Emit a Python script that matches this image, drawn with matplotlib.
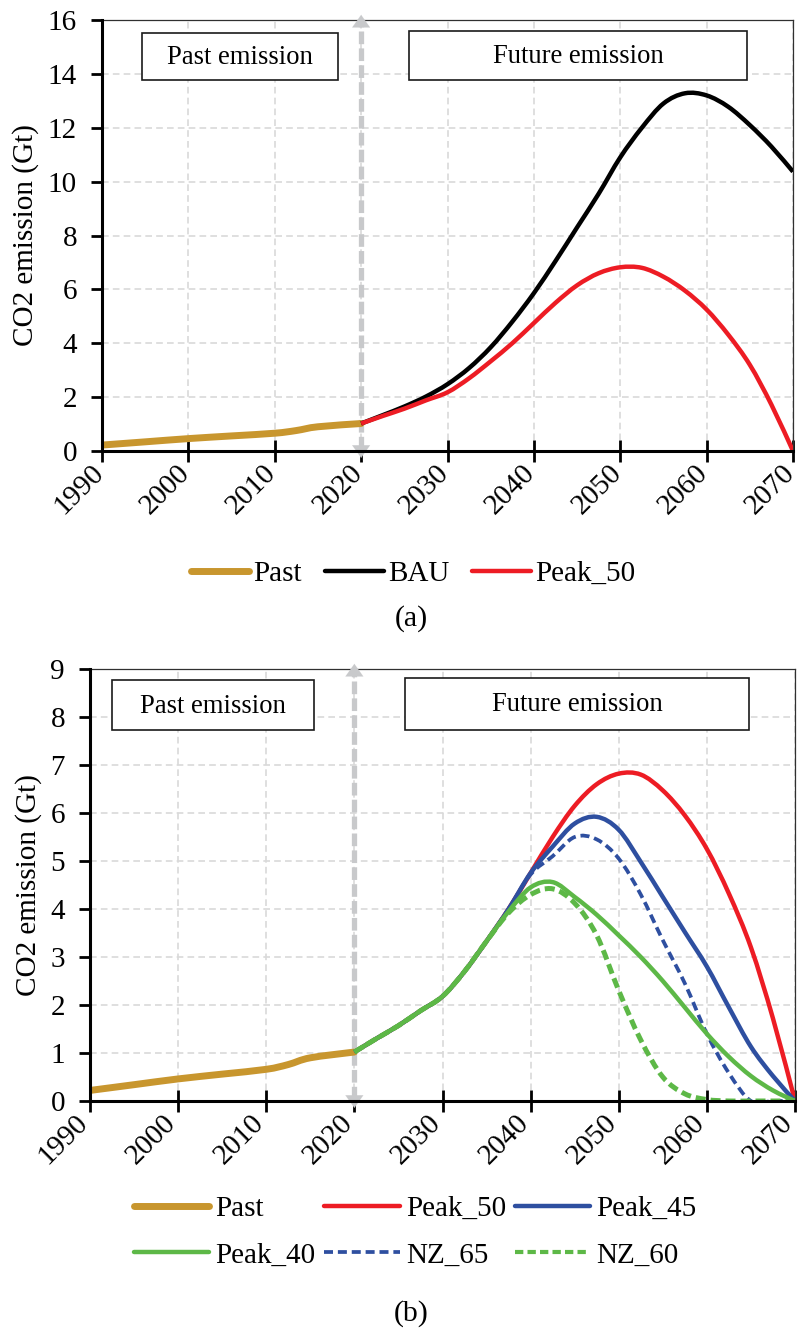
import matplotlib
matplotlib.use("Agg")
import matplotlib.pyplot as plt
from matplotlib.patches import Rectangle, PathPatch
from matplotlib.path import Path
from matplotlib.lines import Line2D
from matplotlib.transforms import ScaledTranslation

plt.rcParams['font.family'] = ['Liberation Serif', 'DejaVu Serif']

# ---------------- data ----------------
past_years = [1990, 1995, 2000, 2005, 2010, 2012.5, 2015, 2020]
past_vals = [0.22, 0.34, 0.46, 0.56, 0.66, 0.76, 0.90, 1.02]

fut_years = [2020, 2022.5, 2025, 2027.5, 2030, 2032.5, 2035, 2037.5, 2040, 2042.5,
             2045, 2047.5, 2050, 2052.5, 2055, 2057.5, 2060, 2062.5, 2065, 2067.5, 2070]
bau = [1.02, 1.33, 1.65, 2.02, 2.48, 3.08, 3.85, 4.80, 5.86, 7.05,
       8.30, 9.55, 10.9, 12.0, 12.9, 13.28, 13.2, 12.78, 12.1, 11.3, 10.37]
peak_50 = [1.02, 1.30, 1.57, 1.88, 2.18, 2.70, 3.33, 4.00, 4.75, 5.50,
           6.15, 6.60, 6.82, 6.80, 6.47, 5.95, 5.25, 4.32, 3.20, 1.72, 0.0]
peak_45 = [1.02, 1.30, 1.57, 1.88, 2.18, 2.70, 3.33, 4.00, 4.75, 5.30,
           5.78, 5.92, 5.65, 4.98, 4.25, 3.52, 2.80, 1.95, 1.13, 0.52, 0.0]
peak_40 = [1.02, 1.30, 1.57, 1.88, 2.18, 2.70, 3.33, 3.95, 4.45, 4.56,
           4.25, 3.88, 3.45, 3.00, 2.50, 1.95, 1.40, 0.92, 0.52, 0.22, 0.0]
nz_65 = [1.02, 1.30, 1.57, 1.88, 2.18, 2.70, 3.33, 4.00, 4.72, 5.10,
         5.50, 5.45, 5.05, 4.30, 3.35, 2.45, 1.40, 0.58, 0.0, 0.0, 0.0]
nz_60 = [1.02, 1.30, 1.57, 1.88, 2.18, 2.70, 3.33, 3.92, 4.30, 4.42,
         4.12, 3.45, 2.30, 1.27, 0.50, 0.15, 0.03, 0.0, 0.0, 0.0, 0.0]

x_ticks = [1990, 2000, 2010, 2020, 2030, 2040, 2050, 2060, 2070]
y_ticks_a = [0, 2, 4, 6, 8, 10, 12, 14, 16]
y_ticks_b = [0, 1, 2, 3, 4, 5, 6, 7, 8, 9]

C_PAST = '#C8962E'
C_RED = '#ED1C24'
C_BLUE = '#2E4FA0'
C_GREEN = '#5DB847'
C_ARROW = '#C8C9CB'

FS = 21

fig = plt.figure(figsize=(8, 13.34), dpi=100)
W, H = 800, 1334


def make_ax(left, top, right, bottom):
    return fig.add_axes([left / W, 1 - bottom / H, (right - left) / W, (bottom - top) / H])


ax1 = make_ax(102, 20, 793, 451)
ax2 = make_ax(90, 669, 795, 1101)


def smooth_line(ax, xs, ys, **kw):
    """Excel-style smoothed line: cubic Bezier segments through the data points."""
    n = len(xs)
    verts = [(xs[0], ys[0])]
    codes = [Path.MOVETO]
    for i in range(n - 1):
        x0, y0 = (xs[i - 1], ys[i - 1]) if i > 0 else (xs[i], ys[i])
        x1, y1 = xs[i], ys[i]
        x2, y2 = xs[i + 1], ys[i + 1]
        x3, y3 = (xs[i + 2], ys[i + 2]) if i + 2 < n else (x2, y2)
        c1 = (x1 + (x2 - x0) / 6.0, y1 + (y2 - y0) / 6.0)
        c2 = (x2 - (x3 - x1) / 6.0, y2 - (y3 - y1) / 6.0)
        verts += [c1, c2, (x2, y2)]
        codes += [Path.CURVE4] * 3
    patch = PathPatch(Path(verts, codes), facecolor='none', transform=ax.transData, **kw)
    ax.add_patch(patch)
    return patch


def style_axes(ax, yticks, ymax, xshift_px):
    ax.set_xlim(1990, 2070)
    ax.set_ylim(0, ymax)
    ax.set_xticks(x_ticks)
    ax.set_yticks(yticks)
    ax.set_xticklabels([str(t) for t in x_ticks], rotation=45, ha='right', va='center',
                       rotation_mode='anchor', fontsize=FS)
    ax.set_yticklabels([str(t) for t in yticks], fontsize=FS)
    ax.tick_params(axis='y', direction='out', length=8, width=2, pad=10)
    ax.tick_params(axis='x', direction='inout', length=16, width=2, pad=5)
    shift = ScaledTranslation(-xshift_px / 100, 0, fig.dpi_scale_trans)
    for lbl in ax.get_xticklabels():
        lbl.set_transform(lbl.get_transform() + shift)
    ax.grid(True, color='#D9D9D9', linestyle=(0, (4, 2.5)), linewidth=1.2)
    ax.set_axisbelow(True)
    for s in ['left', 'bottom']:
        ax.spines[s].set_linewidth(2.2)
        ax.spines[s].set_color('black')
        ax.spines[s].set_zorder(5)
    for s in ['top', 'right']:
        ax.spines[s].set_linewidth(0.9)
        ax.spines[s].set_color('#303030')
    ax.set_ylabel('CO2 emission (Gt)', fontsize=FS, labelpad=6)


def draw_arrow(ax, ymax):
    lo, hi = -0.016 * ymax, 1.012 * ymax
    ax.plot([2020, 2020], [lo + 0.02 * ymax, hi - 0.02 * ymax], color=C_ARROW,
            lw=3.8, linestyle=(0, (2.4, 0.8)), zorder=3, clip_on=False,
            solid_capstyle='butt')
    for tip, base in [(hi, hi - 0.03 * ymax), (lo, lo + 0.03 * ymax)]:
        ax.annotate('', xy=(2020, tip), xytext=(2020, base),
                    arrowprops=dict(arrowstyle='-|>,head_length=0.45,head_width=0.32',
                                    color=C_ARROW, lw=0.1, mutation_scale=20,
                                    shrinkA=0, shrinkB=0),
                    annotation_clip=False, zorder=3)


def draw_box(ax, x0, y0, x1, y1, tx, ty, text):
    ax.add_patch(Rectangle((x0, y0), x1 - x0, y1 - y0, transform=ax.transAxes,
                           facecolor='white', edgecolor='#1a1a1a', lw=1.2, zorder=6))
    ax.text(tx, ty, text, transform=ax.transAxes, ha='center', va='center',
            fontsize=19.2, zorder=7)


# ---------------- panel (a) ----------------
style_axes(ax1, y_ticks_a, 16, 2.5)
draw_arrow(ax1, 16)
smooth_line(ax1, past_years, past_vals, edgecolor=C_PAST, lw=5, capstyle='round', zorder=4)
smooth_line(ax1, fut_years, bau, edgecolor='black', lw=3.2, zorder=4)
smooth_line(ax1, fut_years, peak_50, edgecolor=C_RED, lw=3.2, zorder=4)
draw_box(ax1, 0.058, 0.861, 0.3415, 0.970, 0.200, 0.913, 'Past emission')
draw_box(ax1, 0.444, 0.861, 0.933, 0.974, 0.689, 0.915, 'Future emission')

handles_a = [Line2D([], [], color=C_PAST, lw=5, solid_capstyle='round'),
             Line2D([], [], color='black', lw=3.2, solid_capstyle='round'),
             Line2D([], [], color=C_RED, lw=3.2, solid_capstyle='round')]
fig.legend(handles_a, ['Past', 'BAU', 'Peak_50'], loc='center',
           bbox_to_anchor=(413 / W, 1 - 574 / H), ncol=3, frameon=False,
           fontsize=FS, handlelength=2.0, handletextpad=0.15, columnspacing=0.8)
fig.text(411 / W, 1 - 619 / H, '(a)', ha='center', va='center', fontsize=21.5)

# ---------------- panel (b) ----------------
style_axes(ax2, y_ticks_b, 9, 6)
draw_arrow(ax2, 9)
smooth_line(ax2, past_years, past_vals, edgecolor=C_PAST, lw=5, capstyle='round', zorder=4)
smooth_line(ax2, fut_years, peak_50, edgecolor=C_RED, lw=3.2, zorder=4)
smooth_line(ax2, fut_years, peak_45, edgecolor=C_BLUE, lw=3.2, zorder=4)
smooth_line(ax2, fut_years, nz_65, edgecolor=C_BLUE, lw=2.7, linestyle=(0, (2.4, 1.3)), zorder=4)
smooth_line(ax2, fut_years, peak_40, edgecolor=C_GREEN, lw=3.2, zorder=4)
smooth_line(ax2, fut_years, nz_60, edgecolor=C_GREEN, lw=3.6, linestyle=(0, (2.0, 1.0)), zorder=4)
draw_box(ax2, 0.031, 0.859, 0.318, 0.9745, 0.1745, 0.914, 'Past emission')
draw_box(ax2, 0.447, 0.859, 0.935, 0.979, 0.691, 0.917, 'Future emission')

handles_b = [Line2D([], [], color=C_PAST, lw=5, solid_capstyle='round'),
             Line2D([], [], color=C_RED, lw=3.2, solid_capstyle='round'),
             Line2D([], [], color=C_BLUE, lw=3.2, solid_capstyle='round'),
             Line2D([], [], color=C_GREEN, lw=3.2, solid_capstyle='round'),
             Line2D([], [], color=C_BLUE, lw=2.7, linestyle=(0, (2.4, 1.3))),
             Line2D([], [], color=C_GREEN, lw=3.0, linestyle=(0, (2.0, 1.0)))]
labels_b = ['Past', 'Peak_50', 'Peak_45', 'Peak_40', 'NZ_65', 'NZ_60']
# matplotlib fills legend column-wise; reorder so rows read as in the reference
order = [0, 3, 1, 4, 2, 5]
fig.legend([handles_b[i] for i in order], [labels_b[i] for i in order], loc='center',
           bbox_to_anchor=(415 / W, 1 - 1232 / H), ncol=3, frameon=False,
           fontsize=FS, handlelength=2.6, handletextpad=0.2, columnspacing=0.3,
           labelspacing=0.7)
fig.text(411 / W, 1 - 1314 / H, '(b)', ha='center', va='center', fontsize=21.5)

fig.savefig('out.png', dpi=100)
